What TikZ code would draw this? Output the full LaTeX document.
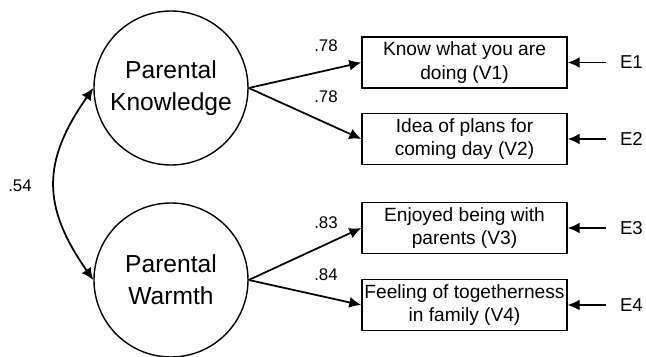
\documentclass[tikz,border=0pt]{standalone}
\usepackage{fontspec}
\setmainfont{Liberation Sans}
\usetikzlibrary{arrows.meta,positioning}

\tikzset{
  latent/.style = {draw, circle, line width=0.8pt, minimum size=3.08cm, inner sep=0pt,
    align=center, font=\fontsize{14}{18.2}\selectfont},
  indicator/.style = {draw, rectangle, line width=0.8pt, minimum width=4.1cm,
    minimum height=1.02cm, inner sep=1pt, align=center, font=\fontsize{10.9}{13.3}\selectfont},
  errterm/.style = {inner xsep=0.28cm, font=\fontsize{10.6}{12}\selectfont},
  coef/.style = {font=\fontsize{9.6}{11}\selectfont},
  loading/.style = {-{Latex[length=0.24cm, width=0.22cm]}, line width=1pt},
  covar/.style = {{Latex[length=0.24cm, width=0.22cm]}-{Latex[length=0.24cm, width=0.22cm]}, line width=1pt}
}

\begin{document}
\begin{tikzpicture}
  \useasboundingbox (0,0) rectangle (12.92,7.12);
  \node[latent] (K) at (3.42,5.36) {Parental\\Knowledge};
  \node[latent] (W) at (3.42,1.52) {Parental\\Warmth};
  \node[indicator] (V1) at (9.29,5.87) {Know what you are\\doing (V1)};
  \node[indicator] (V2) at (9.29,4.34) {Idea of plans for\\coming day (V2)};
  \node[indicator] (V3) at (9.29,2.56) {Enjoyed being with\\parents (V3)};
  \node[indicator] (V4) at (9.29,1.02) {Feeling of togetherness\\in family (V4)};
  \node[errterm, right=0.76cm of V1] (E1) {E1};
  \node[errterm, right=0.76cm of V2] (E2) {E2};
  \node[errterm, right=0.76cm of V3] (E3) {E3};
  \node[errterm, right=0.76cm of V4] (E4) {E4};
  \draw[loading] (K.east) -- (V1.west);
  \draw[loading] (K.east) -- (V2.west);
  \draw[loading] (W.east) -- (V3.west);
  \draw[loading] (W.east) -- (V4.west);
  \draw[loading] (E1) -- (V1);
  \draw[loading] (E2) -- (V2);
  \draw[loading] (E3) -- (V3);
  \draw[loading] (E4) -- (V4);
  \draw[covar] (K.west) to[out=235, in=125, looseness=1.2] (W.west);
  \node[coef] (l1) at (6.52,6.2) {.78};
  \node[coef] (l2) at (6.52,5.18) {.78};
  \node[coef] (l3) at (6.52,2.66) {.83};
  \node[coef] (l4) at (6.52,1.62) {.84};
  \node[coef] (r) at (0.4,3.4) {.54};
\end{tikzpicture}
\end{document}
